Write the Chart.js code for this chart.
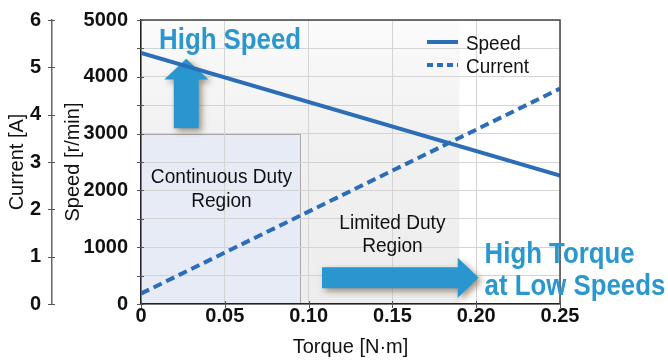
<!DOCTYPE html>
<html><head><meta charset="utf-8">
<script src="https://cdn.jsdelivr.net/npm/chart.js@4.4.1/dist/chart.umd.min.js"></script>
<style>html,body{margin:0;padding:0;background:#fff;overflow:hidden}#wrap{width:668px;height:362px}</style>
</head><body><div id="wrap"><canvas id="c" width="668" height="362"></canvas></div>
<script>
// ---- data ----
const torque = [0, 0.25];
const speed = [4420, 2260];
const current = [0.22, 4.55];
const torqueTickLabels = ['0', '0.05', '0.10', '0.15', '0.20', '0.25'];
const speedTickLabels = [0, 1000, 2000, 3000, 4000, 5000];
const currentTickLabels = [0, 1, 2, 3, 4, 5, 6];
const continuousRegion = {x0: 0, x1: 0.095, y0: 0, y1: 3000};
const limitedRegion = {x0: 0, x1: 0.19, y0: 0, y1: 5000};

// ---- styles ----
const FONT = '"Liberation Sans", Arial, sans-serif';
const LINE = '#2b6db6';
const ARROW = '#2996cf';
const TEXTBLUE = '#2a98cf';

const speedPts = torque.map((t, i) => ({x: t, y: speed[i]}));
const currentPts = torque.map((t, i) => ({x: t, y: current[i]}));

function txt(ctx, s, x, y, font, sx, align) {
  ctx.save();
  ctx.font = font;
  ctx.textAlign = align || 'left';
  ctx.translate(x, y);
  ctx.scale(sx, 1);
  ctx.fillText(s, 0, 0);
  ctx.restore();
}

const decor = {
  id: 'decor',
  beforeDraw(chart) {
    const {ctx, scales: {x, y}} = chart;
    ctx.save();
    let r = limitedRegion;
    let X0 = x.getPixelForValue(r.x0), X1 = x.getPixelForValue(r.x1);
    let Y0 = y.getPixelForValue(r.y0), Y1 = y.getPixelForValue(r.y1);
    const g = ctx.createLinearGradient(0, Y1, 0, Y0);
    g.addColorStop(0, '#fbfbfb');
    g.addColorStop(0.4, '#f1f1f1');
    g.addColorStop(1, '#ededed');
    ctx.fillStyle = g;
    ctx.fillRect(X0, Y1, X1 - X0, Y0 - Y1);
    r = continuousRegion;
    X0 = x.getPixelForValue(r.x0); X1 = x.getPixelForValue(r.x1);
    Y0 = y.getPixelForValue(r.y0); Y1 = y.getPixelForValue(r.y1);
    ctx.fillStyle = '#e7ebf5';
    ctx.fillRect(X0, Y1, X1 - X0, Y0 - Y1);
    ctx.strokeStyle = '#a8a8a8';
    ctx.lineWidth = 1;
    ctx.beginPath();
    ctx.moveTo(X0, Math.round(Y1) + 0.5); ctx.lineTo(Math.round(X1) + 0.5, Math.round(Y1) + 0.5); ctx.lineTo(Math.round(X1) + 0.5, Y0);
    ctx.stroke();
    ctx.restore();
  },
  beforeDatasetsDraw(chart) {
    const {ctx, scales: {x, y}} = chart;
    ctx.save();
    ctx.shadowColor = 'rgba(90,60,30,0.55)';
    ctx.shadowBlur = 6;
    ctx.shadowOffsetX = 3;
    ctx.shadowOffsetY = 3;
    ctx.fillStyle = ARROW;
    const cx = x.getPixelForValue(0.027);
    const yb = y.getPixelForValue(3094), yt = y.getPixelForValue(4318), yh = y.getPixelForValue(3951);
    ctx.beginPath();
    ctx.moveTo(cx - 12.5, yb); ctx.lineTo(cx - 12.5, yh); ctx.lineTo(cx - 22, yh);
    ctx.lineTo(cx, yt); ctx.lineTo(cx + 22, yh); ctx.lineTo(cx + 12.5, yh); ctx.lineTo(cx + 12.5, yb);
    ctx.closePath(); ctx.fill();
    const cy = y.getPixelForValue(463);
    const xl = x.getPixelForValue(0.108), xt = x.getPixelForValue(0.2015), xh = x.getPixelForValue(0.189);
    ctx.beginPath();
    ctx.moveTo(xl, cy - 10.5); ctx.lineTo(xh, cy - 10.5); ctx.lineTo(xh, cy - 20);
    ctx.lineTo(xt, cy); ctx.lineTo(xh, cy + 20); ctx.lineTo(xh, cy + 10.5); ctx.lineTo(xl, cy + 10.5);
    ctx.closePath(); ctx.fill();
    ctx.restore();
  },
  afterDraw(chart) {
    const {ctx, chartArea: a, scales: {x, y, y1}} = chart;
    ctx.save();
    ctx.strokeStyle = '#444';
    ctx.lineWidth = 1.5;
    ctx.beginPath();
    ctx.moveTo(a.left, a.top); ctx.lineTo(a.right, a.top); ctx.lineTo(a.right, a.bottom);
    ctx.stroke();
    ctx.strokeStyle = '#555';
    ctx.lineWidth = 1;
    ctx.beginPath();
    x.ticks.forEach(t => { const p = Math.round(x.getPixelForValue(t.value)) + 0.5; ctx.moveTo(p, a.bottom - 3); ctx.lineTo(p, a.bottom + 4); });
    y.ticks.forEach(t => { const p = Math.round(y.getPixelForValue(t.value)) + 0.5; ctx.moveTo(a.left - 4, p); ctx.lineTo(a.left + 3, p); });
    const ax = y1.right;
    y1.ticks.forEach(t => { const p = Math.round(y1.getPixelForValue(t.value)) + 0.5; ctx.moveTo(ax - 4, p); ctx.lineTo(ax + 3, p); });
    ctx.stroke();

    ctx.fillStyle = '#111';
    ctx.textBaseline = 'alphabetic';
    const rf = '20px ' + FONT;
    txt(ctx, 'Continuous Duty', x.getPixelForValue(0.048), y.getPixelForValue(2133), rf, 0.955, 'center');
    txt(ctx, 'Region', x.getPixelForValue(0.048), y.getPixelForValue(1713), rf, 0.955, 'center');
    txt(ctx, 'Limited Duty', x.getPixelForValue(0.150), y.getPixelForValue(1329), rf, 0.955, 'center');
    txt(ctx, 'Region', x.getPixelForValue(0.150), y.getPixelForValue(909), rf, 0.955, 'center');

    ctx.fillStyle = TEXTBLUE;
    txt(ctx, 'High Speed', x.getPixelForValue(0.0108), y.getPixelForValue(4493), 'bold 30px ' + FONT, 0.86, 'left');
    txt(ctx, 'High Torque', x.getPixelForValue(0.205), y.getPixelForValue(717), 'bold 29px ' + FONT, 0.89, 'left');
    txt(ctx, 'at Low Speeds', x.getPixelForValue(0.205), y.getPixelForValue(157), 'bold 29px ' + FONT, 0.89, 'left');

    const lx = a.right - 133, ly1 = a.top + 22, ly2 = a.top + 45;
    ctx.strokeStyle = LINE; ctx.lineWidth = 4;
    ctx.beginPath(); ctx.moveTo(lx, ly1); ctx.lineTo(lx + 31, ly1); ctx.stroke();
    ctx.setLineDash([6, 4]);
    ctx.beginPath(); ctx.moveTo(lx, ly2); ctx.lineTo(lx + 31, ly2); ctx.stroke();
    ctx.setLineDash([]);
    ctx.fillStyle = '#111';
    txt(ctx, 'Speed', lx + 39, ly1 + 8, '21px ' + FONT, 0.9, 'left');
    txt(ctx, 'Current', lx + 39, ly2 + 8, '21px ' + FONT, 0.9, 'left');
    ctx.restore();
  }
};

const tickFont = {family: FONT, size: 20, weight: 'bold'};

new Chart(document.getElementById('c'), {
  type: 'line',
  data: {
    datasets: [
      {label: 'Speed', data: speedPts, yAxisID: 'y', borderColor: LINE, borderWidth: 4, pointRadius: 0, fill: false, tension: 0},
      {label: 'Current', data: currentPts, yAxisID: 'y1', borderColor: LINE, borderWidth: 4, borderDash: [9, 5], pointRadius: 0, fill: false, tension: 0}
    ]
  },
  options: {
    responsive: false,
    devicePixelRatio: 1,
    animation: false,
    layout: {padding: {top: 17, right: 108, left: 0, bottom: 0}},
    plugins: {legend: {display: false}, tooltip: {enabled: false}},
    scales: {
      x: {
        type: 'linear', min: 0, max: 0.25,
        afterBuildTicks: s => { s.ticks = torqueTickLabels.map(v => ({value: parseFloat(v)})); },
        afterFit: s => { s.height = 58; },
        ticks: {callback: (v, i) => torqueTickLabels[i], color: '#111', font: tickFont, padding: 0, maxRotation: 0},
        grid: {color: '#d4d4d4', lineWidth: 1, tickLength: 0, tickColor: 'transparent'},
        border: {color: '#222', width: 1.5},
        title: {display: true, text: 'Torque [N·m]', color: '#111', font: {family: FONT, size: 20}, padding: {top: 0, bottom: 3}}
      },
      y: {
        type: 'linear', position: 'left', min: 0, max: 5000, weight: 0,
        ticks: {stepSize: 500, callback: v => speedTickLabels.includes(v) ? String(v) : '', color: '#111', font: tickFont, padding: 8, autoSkip: false},
        afterFit: s => { s.width = 89; },
        grid: {color: '#d4d4d4', lineWidth: 1, tickLength: 5, tickColor: 'transparent'},
        border: {color: '#222', width: 1.5},
        title: {display: true, text: 'Speed [r/min]', color: '#111', font: {family: FONT, size: 20}, padding: {top: 9, bottom: 0}}
      },
      y1: {
        type: 'linear', position: 'left', min: 0, max: 6, weight: 1,
        ticks: {stepSize: 1, callback: v => currentTickLabels.includes(v) ? String(v) : '', color: '#111', font: tickFont, padding: 6},
        afterFit: s => { s.width = 52; },
        grid: {drawOnChartArea: false, tickLength: 5, tickColor: 'transparent'},
        border: {color: '#666', width: 1.5},
        title: {display: true, text: 'Current [A]', color: '#111', font: {family: FONT, size: 20}, padding: {top: 5, bottom: 0}}
      }
    }
  },
  plugins: [decor]
});
</script></body></html>
